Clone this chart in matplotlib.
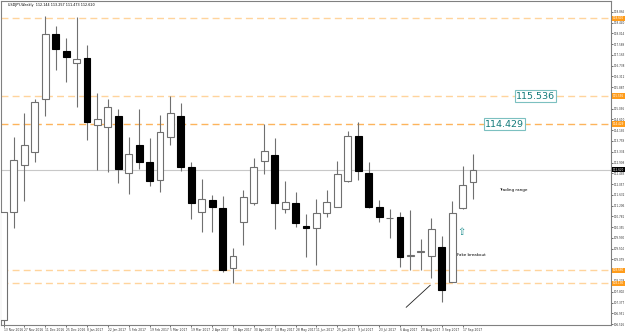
import matplotlib
matplotlib.use("Agg")
from matplotlib import pyplot as plt
import matplotlib.transforms as mtransforms
import numpy as np

# weekly USDJPY candles, 13 Nov 2016 .. 24 Sep 2017
opens = [106.70, 110.95, 112.83, 113.33, 115.43, 117.98, 117.30, 116.85, 117.05, 114.39,
         114.32, 114.76, 112.48, 113.59, 112.91, 112.21, 113.93, 114.75, 112.74, 110.96,
         111.42, 111.10, 108.76, 110.55, 111.29, 112.98, 113.20, 111.06, 111.29, 110.39,
         110.34, 110.90, 111.16, 112.16, 113.95, 112.48, 111.14, 110.70, 110.76, 109.20,
         109.37, 109.21, 109.58, 108.19, 111.10, 112.144]
highs = [110.97, 113.92, 114.85, 115.42, 118.70, 118.30, 117.83, 118.67, 117.55, 115.67,
         115.42, 115.01, 113.90, 115.01, 113.86, 114.78, 115.54, 115.25, 112.94, 112.24,
         111.62, 111.59, 109.54, 111.82, 113.07, 114.43, 113.89, 112.19, 111.75, 110.86,
         111.46, 111.82, 112.97, 114.16, 114.52, 112.91, 111.42, 111.09, 110.96, 111.03,
         109.87, 110.72, 110.00, 111.38, 112.77, 113.257]
lows = [106.45, 110.32, 111.40, 112.91, 114.76, 116.56, 116.08, 115.11, 113.80, 112.61,
        112.54, 112.08, 111.65, 112.65, 111.98, 111.73, 113.60, 112.58, 110.66, 110.15,
        110.17, 108.59, 108.13, 109.64, 111.25, 112.44, 110.28, 110.90, 110.37, 109.16,
        108.85, 110.74, 111.14, 112.12, 112.21, 111.10, 110.57, 109.91, 108.79, 108.66,
        108.66, 108.33, 107.39, 108.17, 111.08, 111.473]
closes = [110.95, 113.01, 113.59, 115.29, 117.99, 117.38, 117.07, 116.99, 114.52, 114.63,
          115.10, 112.64, 113.23, 112.91, 112.19, 114.10, 114.85, 112.74, 111.29, 111.45,
          111.14, 108.66, 109.21, 111.53, 112.74, 113.37, 111.29, 111.33, 110.50, 110.34,
          110.90, 111.33, 112.45, 113.95, 112.57, 111.16, 110.76, 110.72, 109.18, 109.26,
          109.40, 110.30, 107.89, 110.90, 112.02, 112.620]

date_labels = ["13 Nov 2016", "27 Nov 2016", "11 Dec 2016", "25 Dec 2016", "8 Jan 2017",
               "22 Jan 2017", "5 Feb 2017", "19 Feb 2017", "5 Mar 2017", "19 Mar 2017",
               "2 Apr 2017", "16 Apr 2017", "30 Apr 2017", "14 May 2017", "28 May 2017",
               "11 Jun 2017", "25 Jun 2017", "9 Jul 2017", "23 Jul 2017", "6 Aug 2017",
               "20 Aug 2017", "3 Sep 2017", "17 Sep 2017"]

price_ticks = [118.865, 118.440, 118.014, 117.589, 117.163, 116.738, 116.312, 115.887,
               115.461, 115.036, 114.610, 114.185, 113.759, 113.334, 112.908, 112.483,
               112.057, 111.632, 111.206, 110.781, 110.355, 109.930, 109.504, 109.079,
               108.653, 108.228, 107.802, 107.377, 106.951, 106.526]

levels = [118.600, 115.536, 114.429, 108.660, 108.130]
level_strong = [False, False, True, False, False]
boxed_levels = [115.536, 114.429]
boxed_pos = [51.0, 48.0]
last_price = 112.620
title = "USDJPY,Weekly  112.144 113.257 111.473 112.620"

# trend line drawn near the Sept low
tline_x = [38.6, 40.9]
tline_y = [107.19, 108.06]

fig = plt.figure(figsize=(6.25, 3.32), dpi=100)
ax = fig.add_axes([0.0016, 0.0196, 0.9760, 0.9774])

x = np.arange(len(opens))
o = np.array(opens)
c = np.array(closes)
up = c >= o

# wicks
ax.vlines(x, lows, highs, color="#707070", linewidth=0.8, zorder=2)
# bodies
body_h = np.maximum(np.abs(c - o), 0.02)
body_b = np.minimum(o, c)
ax.bar(x[up], body_h[up], bottom=body_b[up], width=0.66, facecolor="white",
       edgecolor="#707070", linewidth=0.8, zorder=3)
ax.bar(x[~up], body_h[~up], bottom=body_b[~up], width=0.66, facecolor="black",
       edgecolor="black", linewidth=0.8, zorder=3)

# horizontal levels
for lv, strong in zip(levels, level_strong):
    col = "#FDB45C" if strong else "#FFD49C"
    ax.axhline(lv, color=col, linewidth=1.0, dashes=(5, 3), zorder=1)
ax.axhline(last_price, color="#C8C8C8", linewidth=0.8, zorder=1)

# trend line
ax.plot(tline_x, tline_y, color="#202020", linewidth=0.6, zorder=4)

ax.set_xlim(-0.24, 58.23)
ax.set_ylim(106.47, 119.29)

# axes look
for sp in ax.spines.values():
    sp.set_color("#808080")
    sp.set_linewidth(0.8)

ax.yaxis.tick_right()
ax.set_yticks(price_ticks)
ax.set_yticklabels(["%.3f" % v for v in price_ticks])
ax.tick_params(axis="y", labelsize=2.0, length=1.2, width=0.5, pad=0.5, colors="#333333")
ax.set_xticks(np.arange(0, len(date_labels) * 2, 2))
ax.set_xticklabels(date_labels, ha="left")
ax.tick_params(axis="x", labelsize=2.2, length=1.2, width=0.5, pad=0.5, colors="#333333")

# right axis price markers
trans = mtransforms.blended_transform_factory(ax.transAxes, ax.transData)
for lv in levels:
    ax.text(1.003, lv, "%.3f" % lv, transform=trans, fontsize=2.0, color="white",
            va="center", ha="left", zorder=6,
            bbox=dict(boxstyle="square,pad=0.2", facecolor="#FF9C1A", edgecolor="none"))
ax.text(1.003, last_price, "%.3f" % last_price, transform=trans, fontsize=2.0, color="white",
        va="center", ha="left", zorder=6,
        bbox=dict(boxstyle="square,pad=0.2", facecolor="black", edgecolor="none"))

# boxed level labels
for lv, xp in zip(boxed_levels, boxed_pos):
    ax.text(xp, lv, "%.3f" % lv, fontsize=6.8, color="#137A7A", ha="center", va="center",
            zorder=7, bbox=dict(boxstyle="square,pad=0.12", facecolor="white",
                                edgecolor="#7CC0C0", linewidth=0.8))

ax.text(48.9, 111.82, "Trading range", fontsize=3, ha="center", va="center", color="black")
ax.text(44.8, 109.25, "Fake breakout", fontsize=3, ha="center", va="center", color="black")
ax.text(43.9, 110.18, "\u21e7", fontsize=7, ha="center", va="center", color="#1A8C8C")

ax.text(0.011, 0.993, title, transform=ax.transAxes, fontsize=2.4, ha="left", va="top",
        color="black")

fig.savefig("out.png", dpi=100)
